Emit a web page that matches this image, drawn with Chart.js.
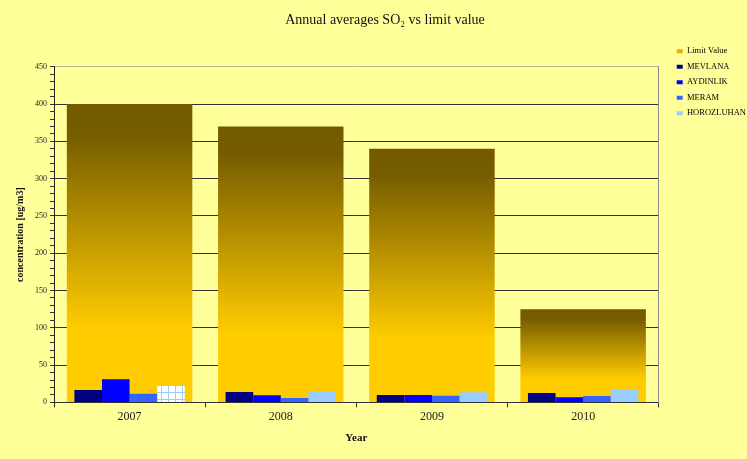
<!DOCTYPE html>
<html>
<head>
<meta charset="utf-8">
<script src="https://cdn.jsdelivr.net/npm/chart.js@4/dist/chart.umd.min.js"></script>
<style>
  html, body { margin: 0; padding: 0; background: #FFFF99; }
  #wrap { width: 747px; height: 459px; position: relative; }
</style>
</head>
<body>
<div id="wrap"><canvas id="so2-chart"></canvas></div>
<script>
// data
const years = ["2007", "2008", "2009", "2010"];
const limitValue = [400, 370, 340, 125];
const mevlana = [16.5, 14, 10, 12.5];
const aydinlik = [31, 9.5, 10, 7];
const meram = [11.5, 6, 9, 8.5];
const horozluhan = [22, 15, 13.5, 16.5];

const SERIF = "'Liberation Serif', 'Times New Roman', serif";

// white cells with light blue lines (2007 HOROZLUHAN fill)
function gridPattern() {
  const c = document.createElement("canvas");
  c.width = 7;
  c.height = 7;
  const g = c.getContext("2d");
  g.fillStyle = "#ffffff";
  g.fillRect(0, 0, 7, 7);
  g.fillStyle = "#99CCFF";
  g.fillRect(0, 0, 7, 1);
  g.fillRect(0, 0, 1, 7);
  return g.createPattern(c, "repeat");
}

function limitFill(ctx) {
  const chart = ctx.chart;
  if (!chart.chartArea || ctx.raw === undefined) return "#D9A800";
  const y = chart.scales.y;
  const top = y.getPixelForValue(ctx.raw);
  const bottom = y.getPixelForValue(0);
  const grad = chart.ctx.createLinearGradient(0, top, 0, bottom);
  grad.addColorStop(0, "#735A00");
  grad.addColorStop(0.1, "#765C00");
  grad.addColorStop(0.75, "#FFCC00");
  grad.addColorStop(1, "#FFCC00");
  return grad;
}

const legendColors = ["#E0B000", "#000080", "#0000FF", "#3366FF", "#99CCFF"];

const ctx = document.getElementById("so2-chart").getContext("2d");
new Chart(ctx, {
  type: "bar",
  data: {
    labels: years,
    datasets: [
      {
        label: "Limit Value",
        data: limitValue,
        backgroundColor: limitFill,
        grouped: false,
        categoryPercentage: 0.83,
        barPercentage: 1,
        order: 1,
      },
      {
        label: "MEVLANA",
        data: mevlana,
        backgroundColor: "#000080",
        categoryPercentage: 0.73,
        barPercentage: 1,
        order: 0,
      },
      {
        label: "AYDINLIK",
        data: aydinlik,
        backgroundColor: "#0000FF",
        categoryPercentage: 0.73,
        barPercentage: 1,
        order: 0,
      },
      {
        label: "MERAM",
        data: meram,
        backgroundColor: "#3366FF",
        categoryPercentage: 0.73,
        barPercentage: 1,
        order: 0,
      },
      {
        label: "HOROZLUHAN",
        data: horozluhan,
        backgroundColor: [gridPattern(), "#99CCFF", "#99CCFF", "#99CCFF"],
        categoryPercentage: 0.73,
        barPercentage: 1,
        order: 0,
      },
    ],
  },
  options: {
    responsive: true,
    maintainAspectRatio: false,
    animation: false,
    layout: { padding: { left: 14, right: -9, top: 4, bottom: 14 } },
    plugins: {
      tooltip: { enabled: false },
      title: {
        display: true,
        text: "Annual averages SO\u2082 vs limit value",
        color: "#111",
        font: { family: SERIF, size: 14, weight: "normal" },
        padding: { top: 8, bottom: 38 },
      },
      legend: {
        position: "right",
        align: "start",
        title: { display: true, text: " ", font: { size: 10 }, padding: { top: 24, bottom: 0 } },
        labels: {
          color: "#000",
          font: { family: SERIF, size: 8.5 },
          boxWidth: 6,
          boxHeight: 4,
          padding: 7,
          generateLabels(chart) {
            const items = Chart.defaults.plugins.legend.labels.generateLabels(chart);
            items.forEach((it) => {
              it.fillStyle = legendColors[it.datasetIndex];
              it.strokeStyle = legendColors[it.datasetIndex];
              it.lineWidth = 0;
            });
            return items;
          },
          sort: (a, b) => a.datasetIndex - b.datasetIndex,
        },
      },
    },
    scales: {
      x: {
        offset: true,
        border: { color: "#333", width: 1 },
        grid: {
          offset: true,
          drawOnChartArea: false,
          tickLength: 5,
          tickColor: "#333",
        },
        ticks: { color: "#222", font: { family: SERIF, size: 12 }, padding: 2 },
        title: {
          display: true,
          text: "Year",
          color: "#111",
          font: { family: SERIF, size: 11, weight: "bold" },
          padding: { top: 6, bottom: 0 },
        },
      },
      y: {
        min: 0,
        max: 450,
        border: { color: "#222", width: 1 },
        grid: {
          color: (c) =>
            c.tick.value % 50 !== 0 ? "rgba(0,0,0,0)" : c.tick.value === 450 ? "#B8B890" : "#333",
          tickColor: "#333",
          tickLength: 4,
        },
        ticks: {
          stepSize: 10,
          autoSkip: false,
          color: "#222",
          font: { family: SERIF, size: 8 },
          padding: 3,
          callback: (v) => (v % 50 === 0 ? v : ""),
        },
        title: {
          display: true,
          text: "concentration [ug/m3]",
          color: "#111",
          font: { family: SERIF, size: 10, weight: "bold" },
          padding: { top: 0, bottom: 6 },
        },
      },
      y2: {
        position: "right",
        min: 0,
        max: 450,
        border: { color: "#888", width: 1 },
        grid: { display: false },
        ticks: { display: false },
        afterFit: (scale) => {
          scale.width = 11;
        },
      },
    },
  },
});
</script>
</body>
</html>
